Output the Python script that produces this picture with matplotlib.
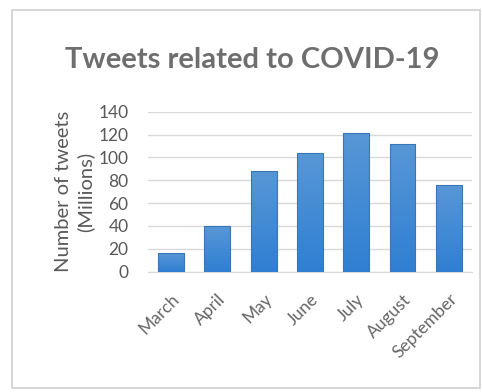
import numpy as np
import matplotlib.pyplot as plt
from matplotlib.colors import LinearSegmentedColormap
from matplotlib.patches import Rectangle

months = ["March", "April", "May", "June", "July", "August", "September"]
tweets = [16, 40, 88, 104, 121, 112, 76]
yticks = [0, 20, 40, 60, 80, 100, 120, 140]

GRAY = "#595959"
plt.rcParams["font.family"] = ["Lato", "DejaVu Sans"]

fig = plt.figure(figsize=(4.82, 3.92), dpi=100)
ax = fig.add_axes([0.307, 0.307, 0.672, 0.408])

x = range(len(months))
bars = ax.bar(x, tweets, width=0.56, color="none", edgecolor="#3a75b5",
              linewidth=0.8, zorder=4)

# vertical gradient fill, light at top, deeper blue at the base
cmap = LinearSegmentedColormap.from_list("bar", ["#2f7fd3", "#5897d6"])
grad = np.linspace(0, 1, 256).reshape(-1, 1)
for b in bars:
    x0, w, h = b.get_x(), b.get_width(), b.get_height()
    ax.imshow(grad, cmap=cmap, origin="lower", aspect="auto",
              extent=[x0, x0 + w, 0, h], zorder=3)

ax.set_xlim(-0.5, len(months) - 0.5)
ax.set_ylim(0, 140)
ax.set_yticks(yticks)
ax.set_xticks(list(x))
ax.set_xticklabels(months, rotation=45, ha="right", va="top",
                   rotation_mode="anchor", color="#666666", fontsize=12.5)
ax.tick_params(axis="y", labelsize=12.5, colors=GRAY, length=0, pad=14)
ax.tick_params(axis="x", length=0, pad=14)
ax.grid(axis="y", color="#d9d9d9", linewidth=1, zorder=0)
for s in ["top", "right", "left"]:
    ax.spines[s].set_visible(False)
ax.spines["bottom"].set_color("#d9d9d9")

ax.set_ylabel("Number of tweets\n(Millions)", color=GRAY, fontsize=14.5,
              labelpad=3, linespacing=1.3)

fig.text(0.523, 0.847, "Tweets related to COVID-19", ha="center", va="center",
         fontsize=21, fontweight="bold", color="#6e6e6e")

fig.patches.append(Rectangle((0.025, 0.01), 0.97, 0.965,
                             transform=fig.transFigure, fill=False,
                             edgecolor="#d0d0d0", linewidth=1.2))

fig.savefig("out.png", dpi=100)
